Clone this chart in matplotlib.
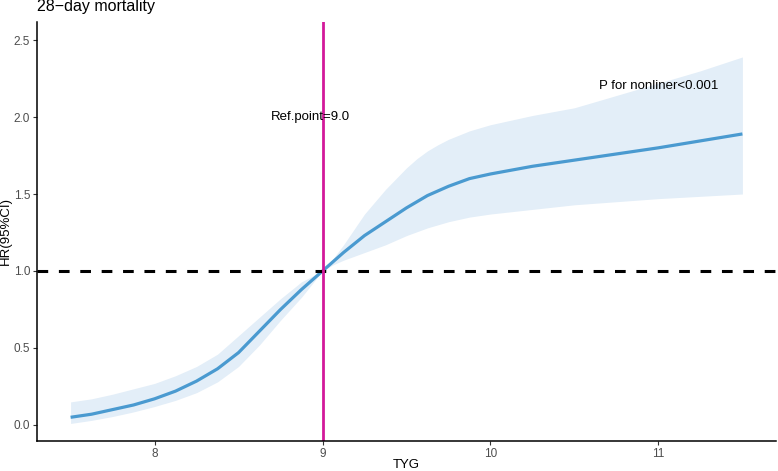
import numpy as np
import matplotlib.pyplot as plt

plt.rcParams['font.family'] = ['Liberation Sans', 'DejaVu Sans']

# restricted cubic spline estimate
tyg = [7.5, 7.625, 7.75, 7.875, 8.0, 8.125, 8.25, 8.375, 8.5, 8.625, 8.75, 8.875,
       9.0, 9.0625, 9.125, 9.1875, 9.25, 9.3125, 9.375, 9.4375, 9.5, 9.5625, 9.625,
       9.6875, 9.75, 9.875, 10.0, 10.25, 10.5, 10.75, 11.0, 11.25, 11.5]
hr = [0.05, 0.07, 0.10, 0.13, 0.17, 0.22, 0.285, 0.365, 0.47, 0.61, 0.75, 0.88,
      1.00, 1.06, 1.12, 1.175, 1.23, 1.275, 1.32, 1.365, 1.41, 1.45, 1.49,
      1.52, 1.55, 1.60, 1.63, 1.68, 1.72, 1.76, 1.80, 1.845, 1.89]
hr_upper = [0.15, 0.17, 0.20, 0.235, 0.27, 0.32, 0.38, 0.46, 0.58, 0.70, 0.82, 0.93,
            1.00, 1.08, 1.17, 1.27, 1.37, 1.45, 1.53, 1.60, 1.67, 1.73, 1.78,
            1.82, 1.855, 1.91, 1.95, 2.01, 2.06, 2.14, 2.22, 2.30, 2.39]
hr_lower = [0.01, 0.03, 0.055, 0.085, 0.12, 0.16, 0.21, 0.28, 0.38, 0.52, 0.68, 0.83,
            1.00, 1.04, 1.07, 1.095, 1.12, 1.145, 1.17, 1.20, 1.23, 1.255, 1.28,
            1.30, 1.32, 1.35, 1.37, 1.40, 1.43, 1.45, 1.47, 1.485, 1.50]

ref_point = 9.0
x_ticks = [8, 9, 10, 11]
y_ticks = [0.0, 0.5, 1.0, 1.5, 2.0, 2.5]

W, H = 778, 471
fig = plt.figure(figsize=(W / 100, H / 100), dpi=100)
ax = fig.add_axes([37 / W, 30 / H, 739 / W, 419 / H])

ax.fill_between(tyg, hr_lower, hr_upper, color='#E3EEF8', linewidth=0)
ax.plot(tyg, hr, color='#4A9AD0', linewidth=2.3, solid_capstyle='butt',
        solid_joinstyle='round')
ax.axhline(1.0, color='black', linewidth=2.2, linestyle=(0, (3.5, 3.5)))
ax.axvline(ref_point, color='#D3199A', linewidth=2)

ax.text(8.93, 2.0, 'Ref.point=9.0', ha='center', va='center', fontsize=9.5)
ax.text(11.0, 2.2, 'P for nonliner<0.001', ha='center', va='center', fontsize=9.5)

ax.set_xlim(7.3, 11.7)
ax.set_ylim(-0.104, 2.617)
ax.set_xticks(x_ticks)
ax.set_yticks(y_ticks)
ax.set_yticklabels([f'{v:.1f}' for v in y_ticks])
ax.tick_params(labelsize=8.5, colors='#333333', labelcolor='#4D4D4D', length=3, width=0.8,
               pad=2)

# axis titles and plot title placed in figure pixels, like the reference
fig.text(406 / W, 1 - 465 / H, 'TYG', ha='center', va='center', fontsize=9.5)
fig.text(6 / W, 1 - 231 / H, 'HR(95%CI)', ha='center', va='center', rotation=90,
         fontsize=9.5)
fig.text(37 / W, 1 - 11 / H, '28\u2212day mortality', ha='left', va='baseline',
         fontsize=11.5)

for side in ['top', 'right']:
    ax.spines[side].set_visible(False)
for side in ['left', 'bottom']:
    ax.spines[side].set_linewidth(1.1)

fig.savefig('out.png', dpi=100)
